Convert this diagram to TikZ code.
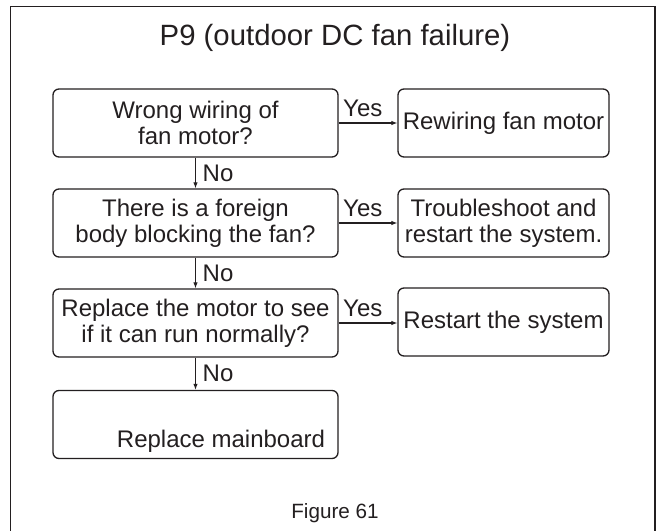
\documentclass[tikz,border=0pt]{standalone}
\usepackage{fontspec}
\setmainfont{Liberation Sans}
\usetikzlibrary{arrows.meta,positioning}
\definecolor{ink}{RGB}{35,31,32}

\begin{document}
\begin{tikzpicture}[
    x=0.75pt,
    y=-0.75pt,
    >={Latex[length=4.5pt,width=3.4pt]},
    qbox/.style={draw=ink, line width=1pt, rounded corners=4.5pt, align=center, minimum width=213.75pt, minimum height=51pt, inner sep=0pt, text=ink, font=\fontsize{18}{19.5}\selectfont},
    abox/.style={qbox, minimum width=158.25pt},
    txt/.style={text=ink, inner sep=0pt, font=\fontsize{18}{19.5}\selectfont},
    yeslab/.style={text=ink, inner sep=0pt, pos=0, anchor=base west, xshift=3pt, yshift=4.5pt, font=\fontsize{18}{20}\selectfont},
    nolab/.style={text=ink, inner sep=0pt, pos=0.5, anchor=west, xshift=5pt, font=\fontsize{18}{20}\selectfont},
    line/.style={->, draw=ink, line width=0.8pt},
    frame/.style={draw=ink, line width=1pt}
]
\useasboundingbox (0,0) rectangle (662,531);
\draw[frame] (10.5,545) -- (10.5,6.5) -- (655,6.5) -- (655,545);

\node[txt, font=\fontsize{22}{26}\selectfont] (title) at (335,38) {P9 (outdoor DC fan failure)};

\node[qbox] (wiring) at (195.5,123) {Wrong wiring of\\fan motor?};
\node[abox] (rewire) at (503.5,123) {Rewiring fan motor};
\node[qbox] (foreign) at (195.5,223) {There is a foreign\\body blocking the fan?};
\node[abox] (trouble) at (503.5,223) {Troubleshoot and\\restart the system.};
\node[qbox] (motor) at (195.5,323) {Replace the motor to see\\if it can run normally?};
\node[abox] (restart) at (503.5,322) {Restart the system};
\node[qbox] (board) at (195.5,424.5) {};
\node[txt] (boardtxt) at (221,441) {Replace mainboard};

\node[txt, font=\fontsize{15.5}{18}\selectfont] (caption) at (335,513) {Figure 61};

\draw[line] (wiring.east) -- (rewire.west) node[yeslab] (yes1) {Yes};
\draw[line] (foreign.east) -- (trouble.west) node[yeslab] (yes2) {Yes};
\draw[line] (motor.east) -- (motor.east -| restart.west) node[yeslab] (yes3) {Yes};
\draw[line] (wiring.south) -- (foreign.north) node[nolab] (no1) {No};
\draw[line] (foreign.south) -- (motor.north) node[nolab] (no2) {No};
\draw[line] (motor.south) -- (board.north) node[nolab] (no3) {No};
\end{tikzpicture}
\end{document}
